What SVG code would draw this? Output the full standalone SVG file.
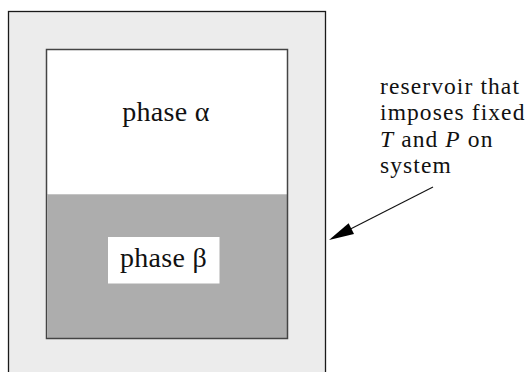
<svg xmlns="http://www.w3.org/2000/svg" width="528" height="372" viewBox="0 0 528 372">
<style>
.lbl{font-family:"Liberation Serif","Times New Roman",serif;fill:#111;}
.ph{font-size:28px;letter-spacing:0.3px;text-anchor:middle;}
.note{font-size:23.5px;letter-spacing:1.1px;}
.it{font-style:italic;}
</style>
<rect width="528" height="372" fill="#ffffff"/>
<g id="reservoir">
<rect x="8.5" y="11.5" width="317" height="380" fill="#ececec" stroke="#1a1a1a" stroke-width="1.3"/>
</g>
<g id="system">
<rect x="46.5" y="49.5" width="241" height="289" fill="#ffffff"/>
<g id="phase-beta-region">
<rect x="47.5" y="194" width="240" height="144.5" fill="#adadad"/>
<line x1="48" y1="194.5" x2="287" y2="194.5" stroke="#c4c4c4" stroke-width="1"/>
</g>
<rect x="46.5" y="49.5" width="241" height="289" fill="none" stroke="#444444" stroke-width="1.5"/>
</g>
<g id="phase-alpha">
<text class="lbl ph" x="166" y="121">phase α</text>
</g>
<g id="phase-beta">
<rect x="108" y="237" width="111.5" height="46.5" fill="#ffffff"/>
<text class="lbl ph" x="163.5" y="266.5">phase β</text>
</g>
<g id="note">
<text class="lbl note" x="380" y="94">reservoir that</text>
<text class="lbl note" x="380" y="120.4">imposes fixed</text>
<text class="lbl note" x="380" y="146.8"><tspan class="it">T</tspan> and <tspan class="it">P</tspan> on</text>
<text class="lbl note" x="380" y="173.2">system</text>
</g>
<g id="connectors">
<line x1="433" y1="187" x2="350" y2="229.3" stroke="#111" stroke-width="1.1"/>
<polygon points="329,240 348.6,223.3 354,234" fill="#000"/>
</g>
</svg>
